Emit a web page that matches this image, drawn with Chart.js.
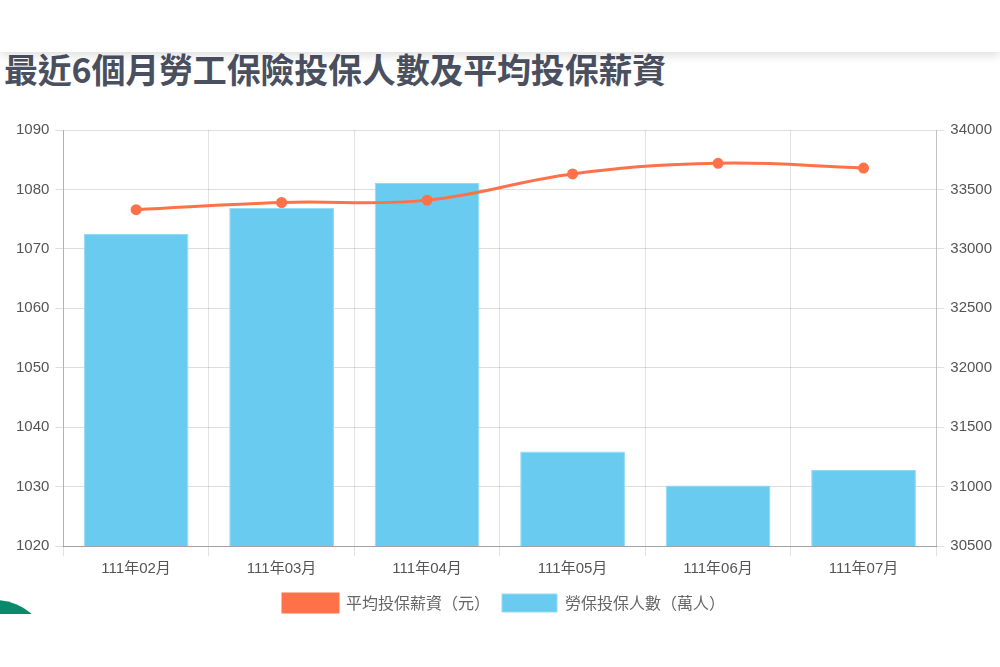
<!DOCTYPE html>
<html>
<head>
<meta charset="utf-8">
<script src="https://cdn.jsdelivr.net/npm/chart.js@4/dist/chart.umd.min.js"></script>
<style>
  html, body { margin: 0; padding: 0; background: #fff; width: 1000px; height: 667px; overflow: hidden; }
  .topbar { position: absolute; left: 0; top: 0; width: 1000px; height: 52px; background: #fff; box-shadow: 0 3px 10px rgba(0,0,0,0.14); z-index: 2; }
  h2.title { position: absolute; left: 4px; top: 44px; margin: 0; font-family: "Noto Sans CJK TC", sans-serif; font-size: 34px; font-weight: 700; color: #4a5060; letter-spacing: -0.2px; }
  .chart { position: absolute; left: 0; top: 112px; width: 1000px; height: 510px; }
  .blob { position: absolute; left: -60px; top: 600px; width: 110px; height: 110px; border-radius: 50%; background: #0a8a6c; }
  .mask { position: absolute; left: 0; top: 614px; width: 200px; height: 60px; background: #fff; }
</style>
</head>
<body>
<div class="topbar"></div>
<h2 class="title">最近6個月勞工保險投保人數及平均投保薪資</h2>
<div class="blob"></div>
<div class="mask"></div>
<div class="chart"><canvas id="c"></canvas></div>
<script>
const labels = ["111年02月", "111年03月", "111年04月", "111年05月", "111年06月", "111年07月"]
const avgSalary = [33330, 33390, 33410, 33630, 33720, 33680]
const insuredPeople = [1072.5, 1076.9, 1081.1, 1035.9, 1030.2, 1032.8]

const tickFont = { family: "'Liberation Sans', 'Noto Sans CJK TC', sans-serif", size: 15 }
const plainNumber = (value) => String(value)

const createChart = (ctx) => {
  const data = {
    labels: labels,
    datasets: [
      {
        type: "line",
        label: "平均投保薪資（元）",
        data: avgSalary,
        yAxisID: "y1",
        borderColor: "#ff7148",
        backgroundColor: "#ff7148",
        borderWidth: 3,
        tension: 0.4,
        pointRadius: 4,
        pointBackgroundColor: "#ff7148",
        fill: false,
      },
      {
        type: "bar",
        label: "勞保投保人數（萬人）",
        data: insuredPeople,
        yAxisID: "y",
        backgroundColor: "#69cbef",
        borderColor: "#93dbf4",
        borderWidth: 1,
      },
    ],
  }
  const options = {
    responsive: true,
    maintainAspectRatio: false,
    animation: false,
    layout: { padding: { left: 10, right: 2, top: 18, bottom: 0 } },
    plugins: {
      legend: {
        position: "bottom",
        labels: {
          boxWidth: 55,
          boxHeight: 18,
          color: "#666",
          font: { family: "'Noto Sans CJK TC', sans-serif", size: 16 },
          padding: 12,
        },
      },
      tooltip: { enabled: false },
    },
    scales: {
      x: {
        offset: true,
        grid: { offset: true, color: "rgba(0,0,0,0.11)", tickLength: 10 },
        border: { color: "rgba(0,0,0,0.28)" },
        ticks: { color: "#555", font: { family: "'Liberation Sans', 'Noto Sans CJK TC', sans-serif", size: 15 }, padding: 4 },
      },
      y: {
        position: "left",
        min: 1020,
        max: 1090,
        ticks: { stepSize: 10, color: "#555", font: tickFont, padding: 6, callback: plainNumber },
        grid: { color: "rgba(0,0,0,0.13)", tickLength: 8 },
        border: { color: "rgba(0,0,0,0.22)" },
      },
      y1: {
        position: "right",
        min: 30500,
        max: 34000,
        ticks: { stepSize: 500, color: "#555", font: tickFont, padding: 6, callback: plainNumber },
        grid: { drawOnChartArea: false, color: "rgba(0,0,0,0.12)", tickLength: 8 },
        border: { color: "rgba(0,0,0,0.15)" },
      },
    },
  }
  return new Chart(ctx, { type: "bar", data: data, options: options })
}

document.addEventListener("DOMContentLoaded", () => {
  const canvas = document.getElementById("c")
  createChart(canvas.getContext("2d"))
})
</script>
</body>
</html>
